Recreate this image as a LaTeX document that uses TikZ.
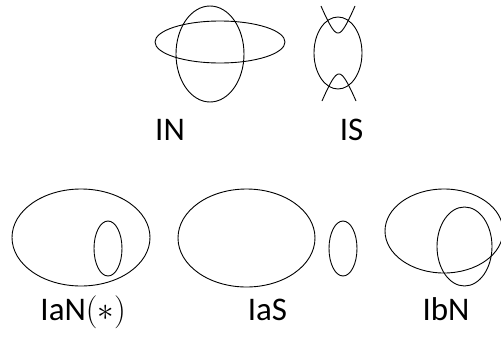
\documentclass[tikz,border=0pt]{standalone}
\usepackage{fix-cm}
\usepackage{fontspec}
\setmainfont{Carlito}
\begin{document}
\begin{tikzpicture}[
    x=1pt, y=-1pt,
    line width=0.9pt,
    % stile per le etichette
    lab/.style={anchor=base, inner sep=0pt, font=\fontsize{33}{40}\selectfont}
  ]
  \useasboundingbox (0,0) rectangle (501,338);

  % ========================================================
  % 1. IN
  % ========================================================
  \draw (220,42) ellipse [x radius=65, y radius=21];
  \draw (210,54) ellipse [x radius=34, y radius=48];
  \node[lab] (in) at (170,140) {IN};

  % ========================================================
  % 2. IS
  % ========================================================
  \draw (338,53) ellipse [x radius=24, y radius=36];
  % rami superiore e inferiore
  \draw[domain=-1.5:1.5, smooth, samples=40]
    plot ({338+8*sinh(\x)}, {33-20*(cosh(\x)-1)});
  \draw[domain=-1.5:1.5, smooth, samples=40]
    plot ({339+8*sinh(\x)}, {74+20*(cosh(\x)-1)});
  \node[lab] (is) at (351.5,140) {IS};

  % ========================================================
  % 3. IaN(*)
  % ========================================================
  \draw (81,237.5) ellipse [x radius=69, y radius=48.5];
  \draw (108,248.5) ellipse [x radius=14, y radius=27.5];
  \node[lab, anchor=base west] (ian) at (40,320) {IaN$(\ast)$};

  % ========================================================
  % 4. IaS
  % ========================================================
  \draw (246.5,238) ellipse [x radius=68.5, y radius=49];
  \draw (343,248.5) ellipse [x radius=14, y radius=27.5];
  \node[lab] (ias) at (267.5,320) {IaS};

  % ========================================================
  % 5. IbN
  % ========================================================
  \draw (444,231) ellipse [x radius=59, y radius=42];
  \draw (464.5,246.5) ellipse [x radius=27.5, y radius=39.5];
  \node[lab] (ibn) at (446,320) {IbN};

\end{tikzpicture}
\end{document}
